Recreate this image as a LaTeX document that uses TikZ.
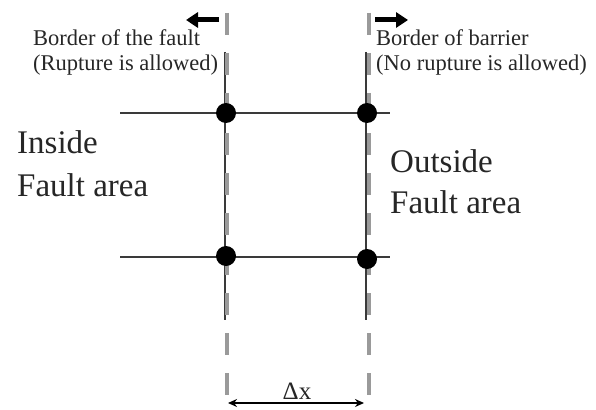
\documentclass[tikz,border=0pt]{standalone}
\usepackage{fontspec}
\setmainfont{Liberation Serif}
\usetikzlibrary{arrows.meta}
\definecolor{gridc}{HTML}{3A3A3A}
\definecolor{dashc}{HTML}{9A9A9A}
\begin{document}
\begin{tikzpicture}[x=1pt,y=-1pt,
  gridline/.style={draw=gridc,line width=2pt},
  border/.style={draw=dashc,line width=4pt,dash pattern=on 22pt off 18pt},
  dot/.style={circle,fill=black,inner sep=0pt,minimum size=20pt},
  small/.style={font=\fontsize{22.5}{26}\selectfont,inner sep=0pt,text=black!85},
  big/.style={font=\fontsize{33}{40}\selectfont,inner sep=0pt,text=black!85},
  dirarrow/.style={line width=5pt,-{Triangle[length=12pt,width=15pt]}}]
\useasboundingbox (0,0) rectangle (596,409);
% grid lines
\coordinate (h1a) at (120,113); \coordinate (h1b) at (390,113);
\coordinate (h2a) at (120,257); \coordinate (h2b) at (390,257);
\coordinate (v1a) at (225,52); \coordinate (v1b) at (225,320);
\coordinate (v2a) at (366,52); \coordinate (v2b) at (366,320);
\draw[gridline] (h1a) -- (h1b);
\draw[gridline] (h2a) -- (h2b);
\draw[gridline] (v1a) -- (v1b);
\draw[gridline] (v2a) -- (v2b);
% borders
\coordinate (b1a) at (227,13); \coordinate (b1b) at (227,395);
\coordinate (b2a) at (369,13); \coordinate (b2b) at (369,395);
\draw[border] (b1a) -- (b1b);
\draw[border] (b2a) -- (b2b);
% dots
\node[dot] (p11) at (226,113) {};
\node[dot] (p12) at (367,113) {};
\node[dot] (p21) at (226,256) {};
\node[dot] (p22) at (367,259) {};
% direction arrows
\coordinate (la) at (219,20); \coordinate (lb) at (186,20);
\coordinate (ra) at (375,20); \coordinate (rb) at (408,20);
\draw[dirarrow] (la) -- (lb);
\draw[dirarrow] (ra) -- (rb);
% labels
\node[small,anchor=base west] (t1) at (33,46) {Border of the fault};
\node[small,anchor=base west] (t2) at (33,71) {(Rupture is allowed)};
\node[small,anchor=base west] (t3) at (376,46) {Border of barrier};
\node[small,anchor=base west] (t4) at (376,71) {(No rupture is allowed)};
\node[big,anchor=base west] (t5) at (17,153) {Inside};
\node[big,anchor=base west] (t6) at (17,196) {Fault area};
\node[big,anchor=base west] (t7) at (390,172) {Outside};
\node[big,anchor=base west] (t8) at (390,213) {Fault area};
% delta x
\coordinate (da) at (228,403); \coordinate (db) at (364,403);
\draw[line width=1.5pt,{Stealth[length=9pt,width=8pt]}-{Stealth[length=9pt,width=8pt]}] (da) -- (db);
\node[small,font=\fontsize{25}{30}\selectfont,anchor=base] (dx) at (297,399) {Δx};
\end{tikzpicture}
\end{document}
